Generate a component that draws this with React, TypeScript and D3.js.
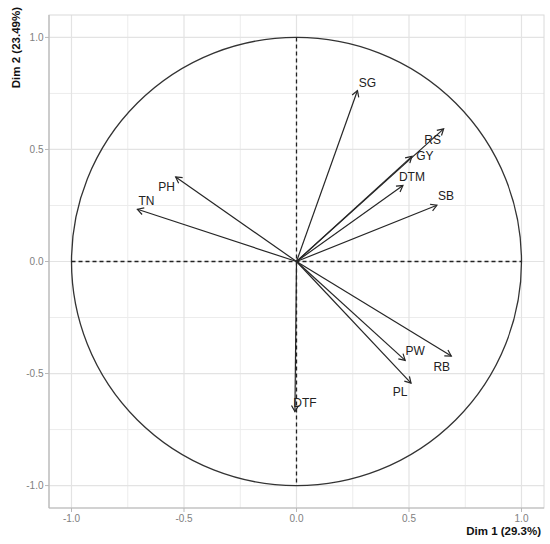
import * as d3 from 'd3';

// variable coordinates on the first two dimensions
const variables = ['SG', 'RS', 'GY', 'DTM', 'SB', 'PH', 'TN', 'PW', 'RB', 'PL', 'DTF'];
const dim1 = [0.271, 0.654, 0.513, 0.473, 0.624, -0.537, -0.707, 0.483, 0.688, 0.509, -0.007];
const dim2 = [0.763, 0.592, 0.469, 0.339, 0.251, 0.377, 0.233, -0.441, -0.422, -0.543, -0.67];

// repel-style label offsets (px) from the arrow tip
const labelDx = [10, -11, 13, 9, 9, -9, 9, 10, -9.5, -11, 10];
const labelDy = [-8, 11, 0, -9, -9, 10, -8, -9, 11, 9, -9];

const majorTicks = [-1.0, -0.5, 0.0, 0.5, 1.0];
const minorTicks = [-0.75, -0.25, 0.25, 0.75];

const xTitle = 'Dim 1 (29.3%)';
const yTitle = 'Dim 2 (23.49%)';

const W = 550;
const H = 544;
const panel = { left: 49, right: 544, top: 15, bottom: 508 };
const font = 'Liberation Sans, Arial, Helvetica, sans-serif';

export default function App() {
  const x = d3.scaleLinear().domain([-1.1, 1.1]).range([panel.left, panel.right]);
  const y = d3.scaleLinear().domain([-1.1, 1.1]).range([panel.bottom, panel.top]);

  const headLen = 7;
  const headAng = Math.PI / 6;

  const arrows = variables.map((name, i) => {
    const x0 = x(0);
    const y0 = y(0);
    const x1 = x(dim1[i]);
    const y1 = y(dim2[i]);
    const a = Math.atan2(y1 - y0, x1 - x0);
    const hx1 = x1 - headLen * Math.cos(a - headAng);
    const hy1 = y1 - headLen * Math.sin(a - headAng);
    const hx2 = x1 - headLen * Math.cos(a + headAng);
    const hy2 = y1 - headLen * Math.sin(a + headAng);
    const shaft = d3.line()([[x0, y0], [x1, y1]]);
    const head = d3.line()([[hx1, hy1], [x1, y1], [hx2, hy2]]);
    return { name, shaft, head, lx: x1 + labelDx[i], ly: y1 + labelDy[i] };
  });

  return (
    <svg
      width={W}
      height={H}
      style={{ position: 'absolute', left: 0, top: 0, display: 'block', background: '#fff' }}
    >
      {/* grid */}
      {minorTicks.map((t) => (
        <g key={'mn' + t}>
          <line x1={x(t)} x2={x(t)} y1={panel.top} y2={panel.bottom} stroke="#ececec" strokeWidth={1} />
          <line x1={panel.left} x2={panel.right} y1={y(t)} y2={y(t)} stroke="#ececec" strokeWidth={1} />
        </g>
      ))}
      {majorTicks.map((t) => (
        <g key={'mj' + t}>
          <line x1={x(t)} x2={x(t)} y1={panel.top} y2={panel.bottom} stroke="#e3e3e3" strokeWidth={1.2} />
          <line x1={panel.left} x2={panel.right} y1={y(t)} y2={y(t)} stroke="#e3e3e3" strokeWidth={1.2} />
        </g>
      ))}

      {/* panel border */}
      <rect
        x={panel.left}
        y={panel.top}
        width={panel.right - panel.left}
        height={panel.bottom - panel.top}
        fill="none"
        stroke="#dadada"
        strokeWidth={1}
      />
      <line x1={panel.left} x2={panel.left} y1={panel.top} y2={panel.bottom} stroke="#b8b8b8" strokeWidth={1.2} />
      <line x1={panel.left} x2={panel.right} y1={panel.bottom} y2={panel.bottom} stroke="#b8b8b8" strokeWidth={1.2} />

      {/* ticks */}
      {majorTicks.map((t) => (
        <g key={'tk' + t} fontFamily={font} fontSize={10} fill="#808080">
          <line x1={x(t)} x2={x(t)} y1={panel.bottom} y2={panel.bottom + 4} stroke="#b8b8b8" />
          <text x={x(t)} y={panel.bottom + 13.5} textAnchor="middle">
            {t.toFixed(1)}
          </text>
          <line x1={panel.left - 4} x2={panel.left} y1={y(t)} y2={y(t)} stroke="#b8b8b8" />
          <text x={panel.left - 5.5} y={y(t) + 3.5} textAnchor="end">
            {t.toFixed(1)}
          </text>
        </g>
      ))}

      {/* unit circle */}
      <ellipse
        cx={x(0)}
        cy={y(0)}
        rx={x(1) - x(0)}
        ry={y(0) - y(1)}
        fill="none"
        stroke="#333"
        strokeWidth={1.3}
      />

      {/* reference lines */}
      <line x1={x(-1)} x2={x(1)} y1={y(0)} y2={y(0)} stroke="#222" strokeWidth={1.3} strokeDasharray="4,3" />
      <line x1={x(0)} x2={x(0)} y1={y(1)} y2={y(-1)} stroke="#222" strokeWidth={1.3} strokeDasharray="4,3" />

      {/* arrows */}
      {arrows.map((a) => (
        <g key={a.name} stroke="#262626" strokeWidth={1.2} fill="none">
          <path d={a.shaft ?? ''} />
          <path d={a.head ?? ''} />
        </g>
      ))}

      {/* labels */}
      {arrows.map((a) => (
        <text
          key={'l' + a.name}
          x={a.lx}
          y={a.ly}
          textAnchor="middle"
          dominantBaseline="central"
          fontFamily={font}
          fontSize={12}
          fill="#222"
        >
          {a.name}
        </text>
      ))}

      {/* axis titles */}
      <text
        x={panel.right - 3}
        y={535}
        textAnchor="end"
        fontFamily={font}
        fontSize={11.5}
        fontWeight="bold"
        fill="#111"
      >
        {xTitle}
      </text>
      <text
        transform={`translate(20,7) rotate(-90)`}
        textAnchor="end"
        fontFamily={font}
        fontSize={11.5}
        fontWeight="bold"
        fill="#111"
      >
        {yTitle}
      </text>
    </svg>
  );
}
